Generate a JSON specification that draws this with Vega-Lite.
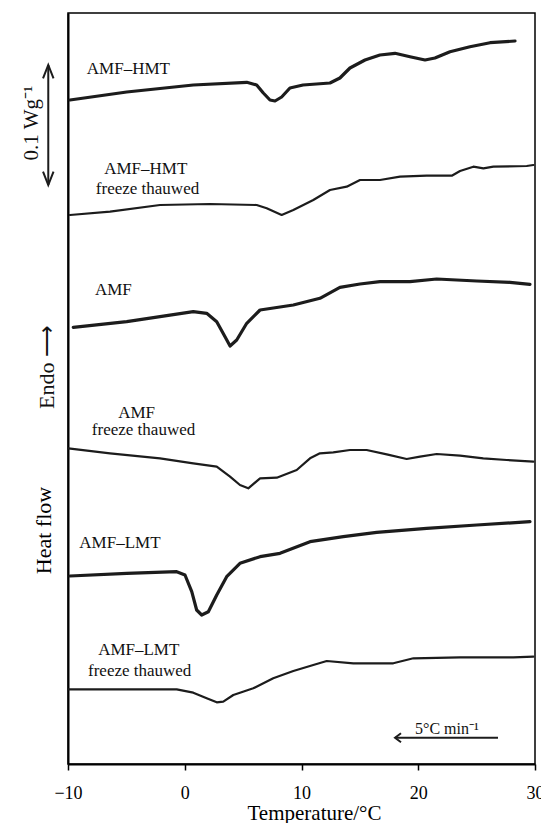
{
  "$schema": "https://vega.github.io/schema/vega-lite/v6.json",
  "width": 467,
  "height": 751,
  "autosize": {"type": "none"},
  "padding": {"left": 68, "top": 13, "right": 6, "bottom": 59},
  "background": "white",
  "config": {
    "view": {"stroke": "#000", "strokeWidth": 1.5},
    "font": "Liberation Serif"
  },
  "datasets": {
    "curves": [
      {"series": "AMF–HMT", "treatment": "native", "T": -9.83, "hf": 664},
      {"series": "AMF–HMT", "treatment": "native", "T": -4.97, "hf": 672},
      {"series": "AMF–HMT", "treatment": "native", "T": 0.73, "hf": 679},
      {"series": "AMF–HMT", "treatment": "native", "T": 5.31, "hf": 681.7},
      {"series": "AMF–HMT", "treatment": "native", "T": 6.16, "hf": 679},
      {"series": "AMF–HMT", "treatment": "native", "T": 6.73, "hf": 671},
      {"series": "AMF–HMT", "treatment": "native", "T": 7.3, "hf": 664},
      {"series": "AMF–HMT", "treatment": "native", "T": 7.73, "hf": 663},
      {"series": "AMF–HMT", "treatment": "native", "T": 8.3, "hf": 667},
      {"series": "AMF–HMT", "treatment": "native", "T": 9.01, "hf": 676},
      {"series": "AMF–HMT", "treatment": "native", "T": 10.13, "hf": 679},
      {"series": "AMF–HMT", "treatment": "native", "T": 12.44, "hf": 681},
      {"series": "AMF–HMT", "treatment": "native", "T": 13.29, "hf": 686},
      {"series": "AMF–HMT", "treatment": "native", "T": 14.15, "hf": 696},
      {"series": "AMF–HMT", "treatment": "native", "T": 15.44, "hf": 704},
      {"series": "AMF–HMT", "treatment": "native", "T": 16.72, "hf": 709},
      {"series": "AMF–HMT", "treatment": "native", "T": 18.01, "hf": 710.7},
      {"series": "AMF–HMT", "treatment": "native", "T": 19.29, "hf": 707.3},
      {"series": "AMF–HMT", "treatment": "native", "T": 20.58, "hf": 704},
      {"series": "AMF–HMT", "treatment": "native", "T": 21.43, "hf": 706},
      {"series": "AMF–HMT", "treatment": "native", "T": 22.72, "hf": 712.3},
      {"series": "AMF–HMT", "treatment": "native", "T": 24.43, "hf": 717.3},
      {"series": "AMF–HMT", "treatment": "native", "T": 26.15, "hf": 721.3},
      {"series": "AMF–HMT", "treatment": "native", "T": 28.29, "hf": 723},

      {"series": "AMF–HMT freeze thawed", "treatment": "freeze thawed", "T": -9.83, "hf": 549},
      {"series": "AMF–HMT freeze thawed", "treatment": "freeze thawed", "T": -6.4, "hf": 552.3},
      {"series": "AMF–HMT freeze thawed", "treatment": "freeze thawed", "T": -2.12, "hf": 559},
      {"series": "AMF–HMT freeze thawed", "treatment": "freeze thawed", "T": 2.16, "hf": 560},
      {"series": "AMF–HMT freeze thawed", "treatment": "freeze thawed", "T": 6.16, "hf": 559},
      {"series": "AMF–HMT freeze thawed", "treatment": "freeze thawed", "T": 7.02, "hf": 555.7},
      {"series": "AMF–HMT freeze thawed", "treatment": "freeze thawed", "T": 8.3, "hf": 549},
      {"series": "AMF–HMT freeze thawed", "treatment": "freeze thawed", "T": 9.3, "hf": 554},
      {"series": "AMF–HMT freeze thawed", "treatment": "freeze thawed", "T": 11.01, "hf": 564},
      {"series": "AMF–HMT freeze thawed", "treatment": "freeze thawed", "T": 12.44, "hf": 574},
      {"series": "AMF–HMT freeze thawed", "treatment": "freeze thawed", "T": 13.87, "hf": 577.3},
      {"series": "AMF–HMT freeze thawed", "treatment": "freeze thawed", "T": 15.01, "hf": 584},
      {"series": "AMF–HMT freeze thawed", "treatment": "freeze thawed", "T": 16.72, "hf": 584},
      {"series": "AMF–HMT freeze thawed", "treatment": "freeze thawed", "T": 18.44, "hf": 587.3},
      {"series": "AMF–HMT freeze thawed", "treatment": "freeze thawed", "T": 20.72, "hf": 588.3},
      {"series": "AMF–HMT freeze thawed", "treatment": "freeze thawed", "T": 22.87, "hf": 588.3},
      {"series": "AMF–HMT freeze thawed", "treatment": "freeze thawed", "T": 23.58, "hf": 593},
      {"series": "AMF–HMT freeze thawed", "treatment": "freeze thawed", "T": 24.72, "hf": 597.3},
      {"series": "AMF–HMT freeze thawed", "treatment": "freeze thawed", "T": 25.58, "hf": 595.7},
      {"series": "AMF–HMT freeze thawed", "treatment": "freeze thawed", "T": 26.43, "hf": 597.3},
      {"series": "AMF–HMT freeze thawed", "treatment": "freeze thawed", "T": 29.29, "hf": 598},
      {"series": "AMF–HMT freeze thawed", "treatment": "freeze thawed", "T": 29.86, "hf": 599},

      {"series": "AMF", "treatment": "native", "T": -9.55, "hf": 436.7},
      {"series": "AMF", "treatment": "native", "T": -4.97, "hf": 442.3},
      {"series": "AMF", "treatment": "native", "T": 0.73, "hf": 452.3},
      {"series": "AMF", "treatment": "native", "T": 1.88, "hf": 450.7},
      {"series": "AMF", "treatment": "native", "T": 2.74, "hf": 442.3},
      {"series": "AMF", "treatment": "native", "T": 3.45, "hf": 427.3},
      {"series": "AMF", "treatment": "native", "T": 3.88, "hf": 418},
      {"series": "AMF", "treatment": "native", "T": 4.45, "hf": 424},
      {"series": "AMF", "treatment": "native", "T": 5.31, "hf": 440.7},
      {"series": "AMF", "treatment": "native", "T": 6.45, "hf": 454},
      {"series": "AMF", "treatment": "native", "T": 9.3, "hf": 459},
      {"series": "AMF", "treatment": "native", "T": 11.58, "hf": 465.7},
      {"series": "AMF", "treatment": "native", "T": 13.29, "hf": 476.7},
      {"series": "AMF", "treatment": "native", "T": 15.01, "hf": 480},
      {"series": "AMF", "treatment": "native", "T": 16.72, "hf": 482.3},
      {"series": "AMF", "treatment": "native", "T": 19.29, "hf": 482.3},
      {"series": "AMF", "treatment": "native", "T": 21.58, "hf": 485},
      {"series": "AMF", "treatment": "native", "T": 25.01, "hf": 483},
      {"series": "AMF", "treatment": "native", "T": 27.86, "hf": 481.7},
      {"series": "AMF", "treatment": "native", "T": 29.57, "hf": 479.7},

      {"series": "AMF freeze thawed", "treatment": "freeze thawed", "T": -9.97, "hf": 315.7},
      {"series": "AMF freeze thawed", "treatment": "freeze thawed", "T": -6.4, "hf": 310.7},
      {"series": "AMF freeze thawed", "treatment": "freeze thawed", "T": -2.12, "hf": 305.7},
      {"series": "AMF freeze thawed", "treatment": "freeze thawed", "T": 0.73, "hf": 300.7},
      {"series": "AMF freeze thawed", "treatment": "freeze thawed", "T": 2.74, "hf": 297.3},
      {"series": "AMF freeze thawed", "treatment": "freeze thawed", "T": 3.88, "hf": 287.3},
      {"series": "AMF freeze thawed", "treatment": "freeze thawed", "T": 4.73, "hf": 279},
      {"series": "AMF freeze thawed", "treatment": "freeze thawed", "T": 5.44, "hf": 275.7},
      {"series": "AMF freeze thawed", "treatment": "freeze thawed", "T": 6.45, "hf": 285.7},
      {"series": "AMF freeze thawed", "treatment": "freeze thawed", "T": 7.88, "hf": 286.3},
      {"series": "AMF freeze thawed", "treatment": "freeze thawed", "T": 9.59, "hf": 294},
      {"series": "AMF freeze thawed", "treatment": "freeze thawed", "T": 10.73, "hf": 305.7},
      {"series": "AMF freeze thawed", "treatment": "freeze thawed", "T": 11.58, "hf": 310.7},
      {"series": "AMF freeze thawed", "treatment": "freeze thawed", "T": 12.72, "hf": 311.7},
      {"series": "AMF freeze thawed", "treatment": "freeze thawed", "T": 14.15, "hf": 314},
      {"series": "AMF freeze thawed", "treatment": "freeze thawed", "T": 15.58, "hf": 314},
      {"series": "AMF freeze thawed", "treatment": "freeze thawed", "T": 17.3, "hf": 309.7},
      {"series": "AMF freeze thawed", "treatment": "freeze thawed", "T": 19.01, "hf": 305},
      {"series": "AMF freeze thawed", "treatment": "freeze thawed", "T": 20.15, "hf": 307.3},
      {"series": "AMF freeze thawed", "treatment": "freeze thawed", "T": 21.58, "hf": 310},
      {"series": "AMF freeze thawed", "treatment": "freeze thawed", "T": 23.58, "hf": 308.3},
      {"series": "AMF freeze thawed", "treatment": "freeze thawed", "T": 25.57, "hf": 305.7},
      {"series": "AMF freeze thawed", "treatment": "freeze thawed", "T": 27.58, "hf": 304},
      {"series": "AMF freeze thawed", "treatment": "freeze thawed", "T": 29.86, "hf": 302.3},

      {"series": "AMF–LMT", "treatment": "native", "T": -9.83, "hf": 188},
      {"series": "AMF–LMT", "treatment": "native", "T": -4.97, "hf": 190.7},
      {"series": "AMF–LMT", "treatment": "native", "T": -0.69, "hf": 192.3},
      {"series": "AMF–LMT", "treatment": "native", "T": 0.02, "hf": 189},
      {"series": "AMF–LMT", "treatment": "native", "T": 0.6, "hf": 172.3},
      {"series": "AMF–LMT", "treatment": "native", "T": 1.02, "hf": 154},
      {"series": "AMF–LMT", "treatment": "native", "T": 1.45, "hf": 149},
      {"series": "AMF–LMT", "treatment": "native", "T": 2.02, "hf": 152.3},
      {"series": "AMF–LMT", "treatment": "native", "T": 2.74, "hf": 169},
      {"series": "AMF–LMT", "treatment": "native", "T": 3.59, "hf": 187.3},
      {"series": "AMF–LMT", "treatment": "native", "T": 4.73, "hf": 200.7},
      {"series": "AMF–LMT", "treatment": "native", "T": 6.45, "hf": 207.3},
      {"series": "AMF–LMT", "treatment": "native", "T": 8.16, "hf": 210.7},
      {"series": "AMF–LMT", "treatment": "native", "T": 10.73, "hf": 222.3},
      {"series": "AMF–LMT", "treatment": "native", "T": 13.58, "hf": 227.3},
      {"series": "AMF–LMT", "treatment": "native", "T": 16.44, "hf": 231.7},
      {"series": "AMF–LMT", "treatment": "native", "T": 20.72, "hf": 235.7},
      {"series": "AMF–LMT", "treatment": "native", "T": 25.01, "hf": 239},
      {"series": "AMF–LMT", "treatment": "native", "T": 29.57, "hf": 242.3},

      {"series": "AMF–LMT freeze thawed", "treatment": "freeze thawed", "T": -9.97, "hf": 74.7},
      {"series": "AMF–LMT freeze thawed", "treatment": "freeze thawed", "T": -0.69, "hf": 74.7},
      {"series": "AMF–LMT freeze thawed", "treatment": "freeze thawed", "T": 0.73, "hf": 71.3},
      {"series": "AMF–LMT freeze thawed", "treatment": "freeze thawed", "T": 1.88, "hf": 65.7},
      {"series": "AMF–LMT freeze thawed", "treatment": "freeze thawed", "T": 2.74, "hf": 61.7},
      {"series": "AMF–LMT freeze thawed", "treatment": "freeze thawed", "T": 3.3, "hf": 62.3},
      {"series": "AMF–LMT freeze thawed", "treatment": "freeze thawed", "T": 4.16, "hf": 69},
      {"series": "AMF–LMT freeze thawed", "treatment": "freeze thawed", "T": 5.87, "hf": 75.7},
      {"series": "AMF–LMT freeze thawed", "treatment": "freeze thawed", "T": 7.58, "hf": 85.7},
      {"series": "AMF–LMT freeze thawed", "treatment": "freeze thawed", "T": 9.3, "hf": 93},
      {"series": "AMF–LMT freeze thawed", "treatment": "freeze thawed", "T": 11.01, "hf": 99},
      {"series": "AMF–LMT freeze thawed", "treatment": "freeze thawed", "T": 12.16, "hf": 103},
      {"series": "AMF–LMT freeze thawed", "treatment": "freeze thawed", "T": 14.44, "hf": 100.7},
      {"series": "AMF–LMT freeze thawed", "treatment": "freeze thawed", "T": 17.86, "hf": 100.7},
      {"series": "AMF–LMT freeze thawed", "treatment": "freeze thawed", "T": 19.58, "hf": 105.7},
      {"series": "AMF–LMT freeze thawed", "treatment": "freeze thawed", "T": 23.58, "hf": 106.7},
      {"series": "AMF–LMT freeze thawed", "treatment": "freeze thawed", "T": 28.14, "hf": 106.7},
      {"series": "AMF–LMT freeze thawed", "treatment": "freeze thawed", "T": 29.86, "hf": 107.3}
    ],
    "labels": [
      {"text": "AMF–HMT", "T": -4.83, "hf": 689.7},
      {"text": "AMF–HMT", "T": -3.34, "hf": 589.7},
      {"text": "freeze thauwed", "T": -3.19, "hf": 569.7},
      {"text": "AMF", "T": -6.12, "hf": 469},
      {"text": "AMF", "T": -4.12, "hf": 345.7},
      {"text": "freeze thauwed", "T": -3.53, "hf": 329},
      {"text": "AMF–LMT", "T": -5.55, "hf": 215.7},
      {"text": "AMF–LMT", "T": -3.94, "hf": 109},
      {"text": "freeze thauwed", "T": -3.86, "hf": 88.3}
    ]
  },
  "layer": [
    {
      "data": {"name": "curves"},
      "mark": {"type": "line", "color": "#1c1c1c", "strokeJoin": "round", "strokeCap": "round"},
      "encoding": {
        "x": {
          "field": "T", "type": "quantitative",
          "scale": {"domain": [-10, 30], "nice": false, "zero": false},
          "axis": {
            "title": "Temperature/°C",
            "values": [-10, 0, 10, 20, 30],
            "grid": false,
            "domainColor": "#000", "domainWidth": 2,
            "tickColor": "#000", "tickWidth": 1.5, "tickSize": 6,
            "labelFont": "Liberation Serif", "labelFontSize": 18, "labelColor": "#000",
            "labelPadding": 28, "labelBaseline": "alphabetic",
            "labelFlush": false, "labelOverlap": false,
            "titleFont": "Liberation Serif", "titleFontSize": 21, "titleFontWeight": "normal", "titleColor": "#000",
            "titleX": 246, "titleY": 55, "titleAlign": "center", "titleBaseline": "alphabetic"
          }
        },
        "y": {
          "field": "hf", "type": "quantitative",
          "scale": {"domain": [0, 751], "nice": false, "zero": false},
          "axis": {
            "title": "Heat flow",
            "labels": false, "ticks": false, "grid": false,
            "domainColor": "#000", "domainWidth": 2,
            "titleFont": "Liberation Serif", "titleFontSize": 22, "titleFontWeight": "normal", "titleColor": "#000",
            "titleX": -18, "titleY": 517, "titleAngle": 270, "titleAlign": "center", "titleBaseline": "alphabetic"
          }
        },
        "detail": {"field": "series", "type": "nominal"},
        "strokeWidth": {
          "field": "treatment", "type": "nominal",
          "scale": {"domain": ["native", "freeze thawed"], "range": [3.2, 2.2]},
          "legend": null
        }
      }
    },
    {
      "data": {"name": "labels"},
      "mark": {"type": "text", "font": "Liberation Serif", "fontSize": 17, "color": "#111", "align": "center", "baseline": "alphabetic"},
      "encoding": {
        "x": {"field": "T", "type": "quantitative"},
        "y": {"field": "hf", "type": "quantitative"},
        "text": {"field": "text", "type": "nominal"}
      }
    },
    {
      "data": {"values": [{}]},
      "mark": {"type": "text", "font": "Liberation Serif", "fontSize": 21, "color": "#111", "angle": 270, "align": "center", "baseline": "alphabetic", "text": "0.1 Wg⁻¹"},
      "encoding": {"x": {"datum": -12.57}, "y": {"datum": 641}}
    },
    {
      "data": {"values": [{}]},
      "mark": {"type": "text", "font": "Liberation Serif", "fontSize": 22, "color": "#111", "angle": 270, "align": "center", "baseline": "alphabetic", "text": "Endo ⟶"},
      "encoding": {"x": {"datum": -11.2}, "y": {"datum": 397}}
    },
    {
      "data": {"values": [{}]},
      "mark": {"type": "rule", "color": "#1c1c1c", "strokeWidth": 2},
      "encoding": {"x": {"datum": -11.69}, "y": {"datum": 699}, "y2": {"datum": 579}}
    },
    {
      "data": {"values": [{}]},
      "mark": {"type": "point", "shape": "M-0.75,1.9L0,0L0.75,1.9", "filled": false, "stroke": "#1c1c1c", "strokeWidth": 2, "size": 196, "opacity": 1},
      "encoding": {"x": {"datum": -11.69}, "y": {"datum": 699}}
    },
    {
      "data": {"values": [{}]},
      "mark": {"type": "point", "shape": "M-0.75,-1.9L0,0L0.75,-1.9", "filled": false, "stroke": "#1c1c1c", "strokeWidth": 2, "size": 196, "opacity": 1},
      "encoding": {"x": {"datum": -11.69}, "y": {"datum": 579}}
    },
    {
      "data": {"values": [{}]},
      "mark": {"type": "rule", "color": "#1c1c1c", "strokeWidth": 2},
      "encoding": {"x": {"datum": 18.01}, "x2": {"datum": 26.83}, "y": {"datum": 26.3}}
    },
    {
      "data": {"values": [{}]},
      "mark": {"type": "point", "shape": "M1,-0.75L0,0L1,0.75", "filled": false, "stroke": "#1c1c1c", "strokeWidth": 2, "size": 144, "opacity": 1},
      "encoding": {"x": {"datum": 18.01}, "y": {"datum": 26.3}}
    },
    {
      "data": {"values": [{}]},
      "mark": {"type": "text", "font": "Liberation Serif", "fontSize": 16, "color": "#111", "align": "left", "baseline": "alphabetic", "text": "5°C min⁻¹"},
      "encoding": {"x": {"datum": 19.72}, "y": {"datum": 29.7}}
    }
  ]
}
